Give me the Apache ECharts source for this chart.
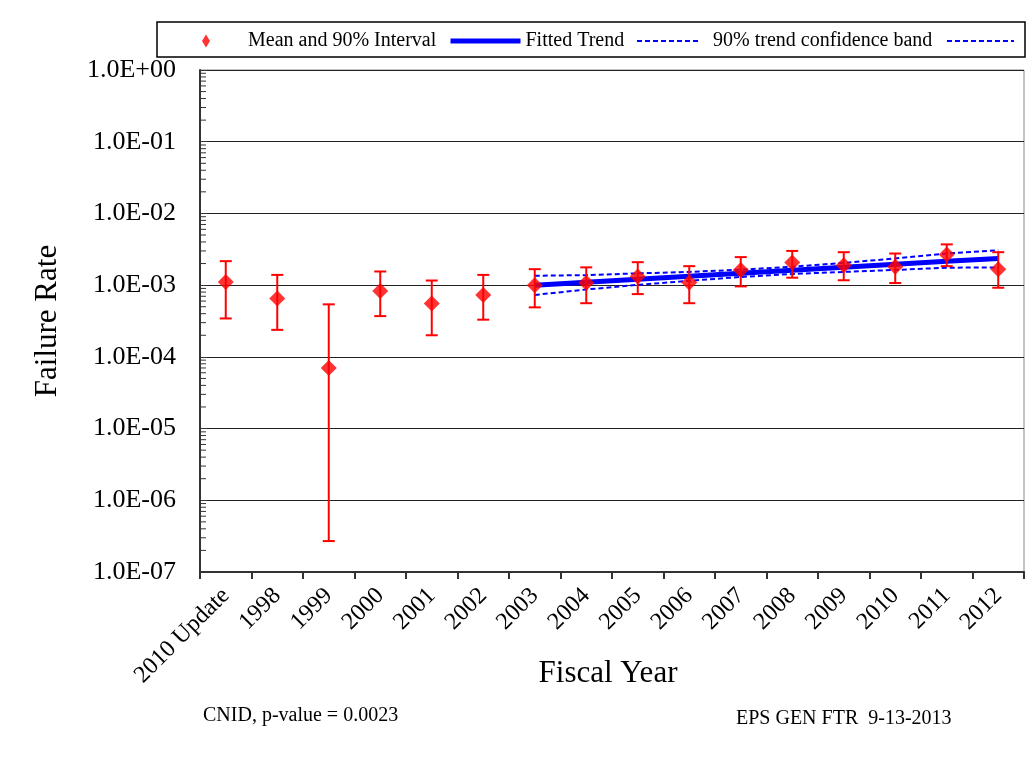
<!DOCTYPE html>
<html>
<head>
<meta charset="utf-8">
<script src="https://cdn.jsdelivr.net/npm/echarts@6/dist/echarts.min.js"></script>
<style>html,body{margin:0;padding:0;background:#fff}#c{width:1034px;height:771px}</style>
</head>
<body>
<div id="c"></div>
<script>
const categories = ['2010 Update','1998','1999','2000','2001','2002','2003','2004','2005','2006','2007','2008','2009','2010','2011','2012'];
const meanValues  = [1.11e-3, 6.5e-4, 7.0e-5, 8.3e-4, 5.55e-4, 7.3e-4, 1.0e-3, 1.08e-3, 1.32e-3, 1.09e-3, 1.62e-3, 2.07e-3, 1.9e-3, 1.8e-3, 2.68e-3, 1.67e-3];
const lowerValues = [3.43e-4, 2.38e-4, 2.7e-7, 3.7e-4, 2.0e-4, 3.3e-4, 4.9e-4, 5.6e-4, 7.5e-4, 5.6e-4, 9.6e-4, 1.27e-3, 1.17e-3, 1.07e-3, 1.84e-3, 9.2e-4];
const upperValues = [2.16e-3, 1.39e-3, 5.4e-4, 1.55e-3, 1.16e-3, 1.39e-3, 1.67e-3, 1.77e-3, 2.09e-3, 1.84e-3, 2.46e-3, 3.0e-3, 2.88e-3, 2.76e-3, 3.7e-3, 2.88e-3];
const trendValues = ['-','-','-','-','-','-', 1.00e-3, 1.10e-3, 1.21e-3, 1.33e-3, 1.46e-3, 1.61e-3, 1.77e-3, 1.95e-3, 2.16e-3, 2.36e-3];
const bandUpper   = ['-','-','-','-','-','-', 1.35e-3, 1.38e-3, 1.46e-3, 1.53e-3, 1.64e-3, 1.81e-3, 2.04e-3, 2.36e-3, 2.76e-3, 3.07e-3];
const bandLower   = ['-','-','-','-','-','-', 7.3e-4, 8.7e-4, 1.01e-3, 1.15e-3, 1.30e-3, 1.43e-3, 1.53e-3, 1.63e-3, 1.75e-3, 1.77e-3];
const yMin = 1e-7, yMax = 1;
const xAxisTitle = 'Fiscal Year';
const yAxisTitle = 'Failure Rate';
const pValueText = 'CNID, p-value = 0.0023';
const stampText = 'EPS GEN FTR  9-13-2013';

const FONT = 'Liberation Serif';
const errData = categories.map((c, i) => [i, lowerValues[i], upperValues[i]]);
const minorTicks = [];
for (let e = -7; e < 0; e++) for (let m = 2; m <= 9; m++) minorTicks.push([0, m * Math.pow(10, e)]);

function fmt(v) {
  const e = Math.round(Math.log10(v));
  return '1.0E' + (e < 0 ? '-' : '+') + String(Math.abs(e)).padStart(2, '0');
}

const noSym = {color: 'rgba(0,0,0,0)', borderWidth: 0, opacity: 0};
function legendAt(left, width, item, textPad) {
  return {
    left: left, top: 31, padding: 0, itemWidth: width, itemHeight: 13, symbolKeepAspect: true,
    textStyle: {fontFamily: FONT, fontSize: 20, color: '#000', padding: [0, 0, 0, textPad]},
    data: [item]
  };
}
const chart = echarts.init(document.getElementById('c'), null, {renderer: 'canvas'});
chart.setOption({
  animation: false,
  backgroundColor: '#fff',
  textStyle: {fontFamily: FONT, color: '#000'},
  grid: {left: 200, right: 10, top: 70, bottom: 199, show: true, borderColor: '#888', borderWidth: 1, backgroundColor: 'transparent'},
  legend: [
    legendAt(202, 8, {name: 'Mean and 90% Interval', icon: 'path://M4,0 L8,6.5 L4,13 L0,6.5 Z'}, 33),
    legendAt(448, 70, {name: 'Fitted Trend', itemStyle: noSym, lineStyle: {width: 5}}, 0),
    legendAt(636, 62, {name: '90% trend confidence band', itemStyle: noSym}, 9),
    legendAt(946, 67, {name: ' ', itemStyle: noSym}, 0)
  ],
  graphic: [
    {type: 'rect', shape: {x: 157, y: 22, width: 868, height: 35}, style: {fill: 'none', stroke: '#000', lineWidth: 1.5}, z: 0},
    {type: 'text', x: 608, y: 674, style: {text: xAxisTitle, font: '31px "Liberation Serif"', fill: '#000', align: 'center', verticalAlign: 'middle'}},
    {type: 'text', x: 48, y: 321, rotation: Math.PI / 2, style: {text: yAxisTitle, font: '31px "Liberation Serif"', fill: '#000', align: 'center', verticalAlign: 'middle'}},
    {type: 'text', left: 203, top: 706, style: {text: pValueText, font: '20px "Liberation Serif"', fill: '#000'}},
    {type: 'text', left: 736, top: 709, style: {text: stampText, font: '20px "Liberation Serif"', fill: '#000'}}
  ],
  xAxis: {
    type: 'category', data: categories, boundaryGap: true,
    axisLine: {show: true, lineStyle: {color: '#333', width: 2}},
    axisTick: {show: true, alignWithLabel: false, length: 7, lineStyle: {color: '#333', width: 2}},
    axisLabel: {rotate: 45, interval: 0, fontSize: 24, fontFamily: FONT, color: '#000', margin: 20},
    splitLine: {show: false}
  },
  yAxis: {
    type: 'log', logBase: 10, min: yMin, max: yMax, interval: 1,
    axisLine: {show: true, lineStyle: {color: '#333', width: 2}},
    axisTick: {show: true, inside: true, length: 7, lineStyle: {color: '#333'}},
    axisLabel: {formatter: fmt, fontSize: 26, fontFamily: FONT, color: '#000', margin: 24},
    splitLine: {show: true, lineStyle: {color: '#222', width: 1}}
  },
  series: [
    {
      name: 'minorTicks', type: 'custom', silent: true, data: minorTicks, encode: {x: 0, y: 1}, z: 5,
      renderItem: function (params, api) {
        const y = api.coord([0, api.value(1)])[1];
        const x = params.coordSys.x;
        return {type: 'line', shape: {x1: x, y1: y, x2: x + 6, y2: y}, style: {stroke: '#333', lineWidth: 1}};
      }
    },
    {
      name: 'Fitted Trend', type: 'line', data: trendValues, symbol: 'none', z: 3,
      lineStyle: {color: '#0000ff', width: 5}, itemStyle: {color: '#0000ff'}
    },
    {
      name: '90% trend confidence band', type: 'line', data: bandUpper, symbol: 'none', z: 3,
      lineStyle: {color: '#0000ff', width: 2, type: [5, 3]}, itemStyle: {color: '#0000ff'}
    },
    {
      name: ' ', type: 'line', data: bandLower, symbol: 'none', z: 3,
      lineStyle: {color: '#0000ff', width: 2, type: [5, 3]}, itemStyle: {color: '#0000ff'}
    },
    {
      name: 'errorBars', type: 'custom', data: errData, encode: {x: 0, y: [1, 2]}, z: 4,
      renderItem: function (params, api) {
        const i = api.value(0);
        const lo = api.coord([i, api.value(1)]);
        const hi = api.coord([i, api.value(2)]);
        const h = 6;
        const st = {stroke: '#ff0000', lineWidth: 2};
        return {type: 'group', children: [
          {type: 'line', shape: {x1: lo[0], y1: lo[1], x2: hi[0], y2: hi[1]}, style: st},
          {type: 'line', shape: {x1: lo[0] - h, y1: lo[1], x2: lo[0] + h, y2: lo[1]}, style: st},
          {type: 'line', shape: {x1: hi[0] - h, y1: hi[1], x2: hi[0] + h, y2: hi[1]}, style: st}
        ]};
      }
    },
    {
      name: 'Mean and 90% Interval', type: 'scatter', data: meanValues, symbol: 'diamond', symbolSize: 16, z: 6,
      itemStyle: {color: '#ff0000'}
    }
  ]
});
</script>
</body>
</html>
